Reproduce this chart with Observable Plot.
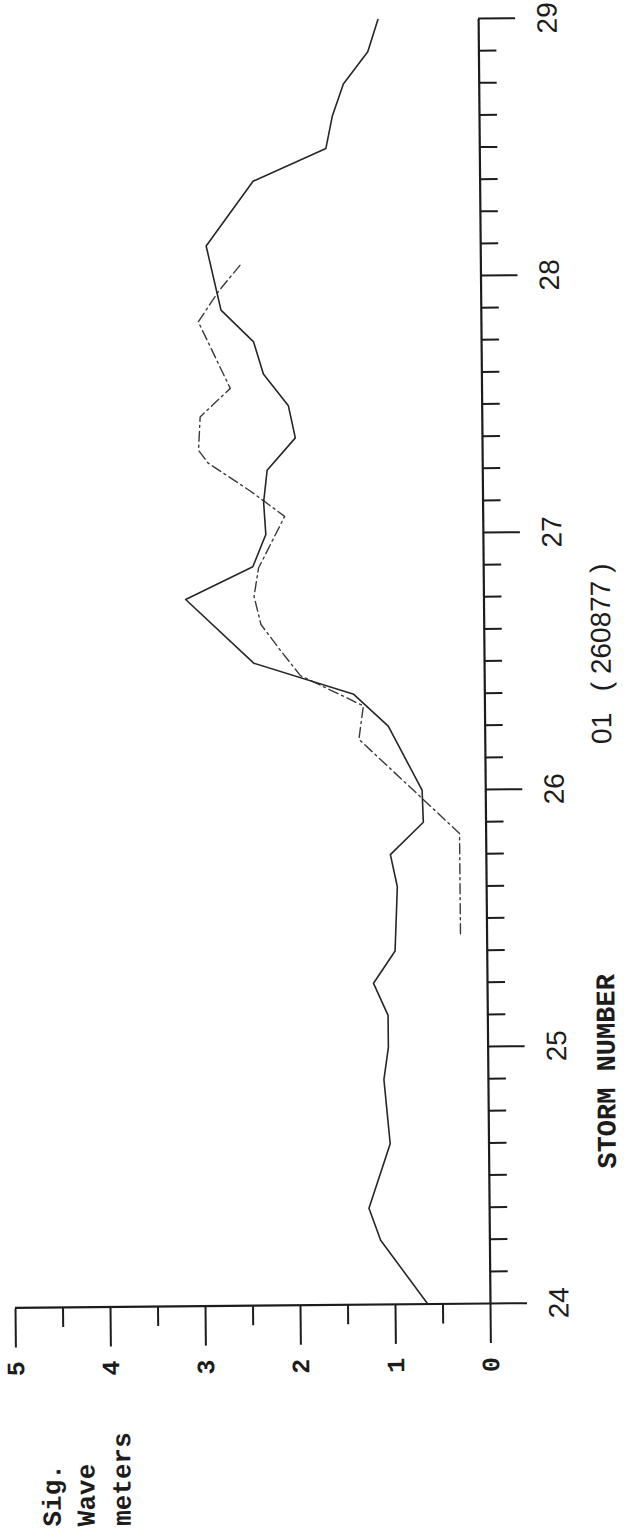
<!DOCTYPE html>
<html>
<head>
<meta charset="utf-8">
<script src="https://cdn.jsdelivr.net/npm/d3@7"></script>
<script src="https://cdn.jsdelivr.net/npm/@observablehq/plot@0.6"></script>
<style>
  html, body { margin: 0; padding: 0; background: #fff; }
  #wrap { position: relative; width: 624px; height: 1531px; overflow: hidden; background: #fff; }
  #wrap svg { position: absolute; left: 0; top: 0; }
</style>
</head>
<body>
<div id="wrap"></div>
<script>
// Significant wave height (m) through storm 01 (260877), days 24-29.
// Solid trace: modelled series (3-hourly).
const solidDay = [24.0, 24.25, 24.375, 24.625, 24.875, 25.0, 25.125, 25.25, 25.375, 25.625,
  25.75, 25.875, 26.0, 26.25, 26.375, 26.5, 26.75, 26.875, 27.0, 27.125, 27.25, 27.375,
  27.5, 27.625, 27.75, 27.875, 28.125, 28.375, 28.5, 28.625, 28.75, 28.875, 29.0];
const solidHs = [0.66, 1.15, 1.27, 1.04, 1.10, 1.05, 1.05, 1.20, 0.97, 0.94,
  1.01, 0.66, 0.67, 1.02, 1.38, 2.43, 3.14, 2.43, 2.29, 2.31, 2.27, 1.97,
  2.04, 2.30, 2.40, 2.74, 2.89, 2.39, 1.62, 1.55, 1.43, 1.17, 1.06];

// Dash-dot trace: observed series.
const dashDay = [25.44, 25.83, 26.2, 26.33, 26.45, 26.55, 26.65, 26.76, 26.87, 27.07,
  27.17, 27.28, 27.33, 27.46, 27.57, 27.83, 27.95, 28.06];
const dashHs = [0.28, 0.28, 1.33, 1.28, 1.94, 2.15, 2.35, 2.42, 2.37, 2.09,
  2.45, 2.89, 2.99, 2.97, 2.65, 2.98, 2.76, 2.51];

// Axis ticks and labels
const dayTicks = [24, 25, 26, 27, 28, 29];
const dayMinorTicks = d3.range(24, 29.0001, 0.125).filter(d => !dayTicks.includes(d));
const hsTicks = [0, 1, 2, 3, 4, 5];
const hsMinorTicks = [0.5, 1.5, 2.5, 3.5, 4.5];
const xTitle = "STORM NUMBER";
const stormId = "01";
const stormCode = "( 260877 )";
const yTitle = ["Sig.", "Wave", "meters"];

const solid = solidDay.map((d, i) => ({day: d, hs: solidHs[i]}));
const dashed = dashDay.map((d, i) => ({day: d, hs: dashHs[i]}));

const ink = "#1c1c1c";
const mono = "'Liberation Mono', 'DejaVu Sans Mono', monospace";
const sans = "'Liberation Sans', Arial, sans-serif";

// offsets of the three y-title lines below the top of the frame
const yTitleOffsets = [35, 69, 105];

// Drawn landscape, then turned on its side to sit upright on the page.
const chart = Plot.plot({
  width: 1531,
  height: 624,
  marginLeft: 227,
  marginRight: 19,
  marginTop: 15,
  marginBottom: 134,
  style: {background: "white", maxWidth: "none", overflow: "visible", color: ink, fontFamily: sans},
  x: {domain: [24, 29]},
  y: {domain: [0, 5]},
  marks: [
    // minor ticks
    Plot.axisX({ticks: dayMinorTicks, tickSize: 18, strokeWidth: 2, text: null, label: null}),
    Plot.axisY({ticks: hsMinorTicks, tickSize: 19, strokeWidth: 2, text: null, label: null}),
    // major ticks with labels
    Plot.axisX({ticks: dayTicks, tickSize: 37, tickPadding: 21, strokeWidth: 2,
      fontSize: 28, fontFamily: sans, tickFormat: d => String(d), label: null}),
    Plot.axisY({ticks: hsTicks, tickSize: 39, tickPadding: 22, strokeWidth: 2,
      textAnchor: "middle", fontSize: 25, fontWeight: "bold", fontFamily: mono,
      tickFormat: d => String(d), label: null}),
    // axis lines
    Plot.ruleY([0], {stroke: ink, strokeWidth: 2.2}),
    Plot.ruleX([24], {stroke: ink, strokeWidth: 2.2}),
    // series
    Plot.line(dashed, {x: "day", y: "hs", stroke: "#3a3a3a", strokeWidth: 1.4,
      strokeDasharray: "10,4,2,4"}),
    Plot.line(solid, {x: "day", y: "hs", stroke: "#262626", strokeWidth: 1.6}),
    // x titles
    Plot.text([xTitle], {text: d => d, frameAnchor: "bottom-left", dx: 231, dy: 118,
      textAnchor: "middle", lineAnchor: "middle", fontSize: 27, fontWeight: "bold",
      fontFamily: mono, fill: ink}),
    Plot.text([stormId], {text: d => d, frameAnchor: "bottom-left", dx: 574, dy: 117,
      textAnchor: "middle", lineAnchor: "middle", fontSize: 28, fontFamily: sans, fill: ink}),
    Plot.text([stormCode], {text: d => d, frameAnchor: "bottom-left", dx: 675, dy: 117,
      textAnchor: "middle", lineAnchor: "middle", fontSize: 28, fontFamily: sans, fill: ink}),
    // y title, three lines left of the value axis
    ...yTitle.map((t, i) => Plot.text([t], {text: d => d, frameAnchor: "top-left",
      dx: -219, dy: yTitleOffsets[i], textAnchor: "start", lineAnchor: "middle",
      fontSize: 26, fontWeight: "bold", fontFamily: mono, fill: ink}))
  ]
});

chart.style.transformOrigin = "227px 490px";
chart.style.transform = "translate(263px, 814px) rotate(-90.53deg)";
document.getElementById("wrap").append(chart);
</script>
</body>
</html>
